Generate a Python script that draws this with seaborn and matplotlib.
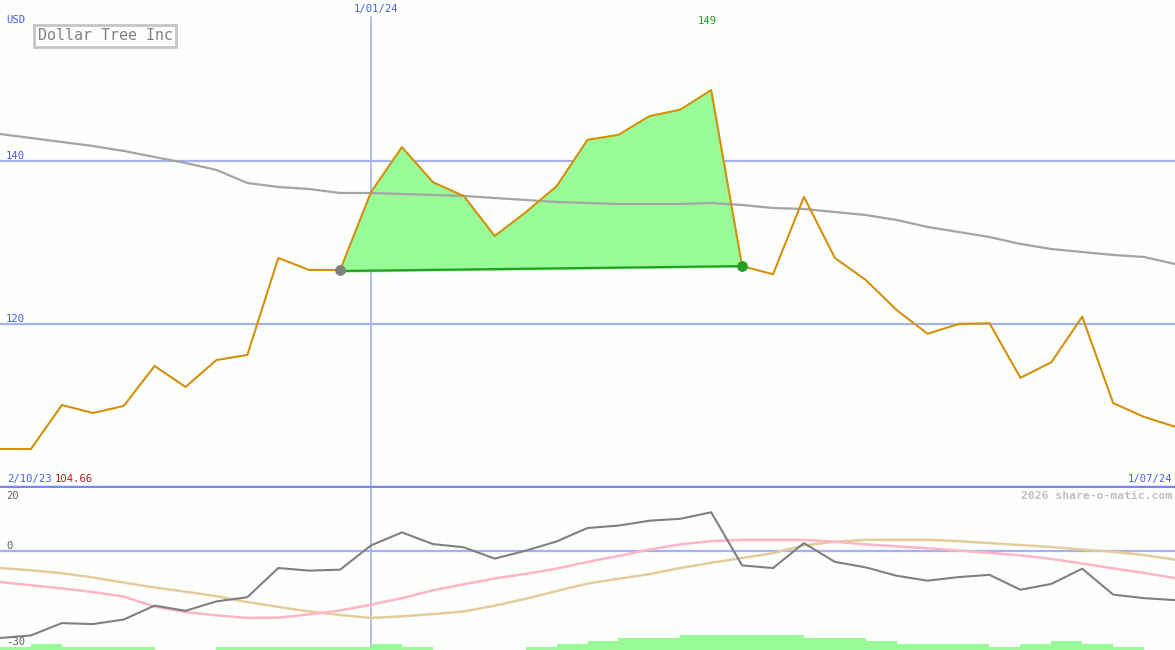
import numpy as np
import pandas as pd
import matplotlib
matplotlib.use("Agg")
import matplotlib.pyplot as plt
import seaborn as sns

# ---------------- data ----------------
price = [104.66, 104.66, 110.06, 109.08, 109.94, 114.85, 112.27, 115.58, 116.2, 128.1,
         126.63, 126.63, 136.2, 141.7, 137.4, 135.7, 130.8, 133.7, 136.9, 142.6,
         143.2, 145.5, 146.3, 148.7, 127.1, 126.1, 135.6, 128.1, 125.4, 121.7,
         118.8, 120.0, 120.1, 113.4, 115.3, 120.9, 110.3, 108.6, 107.4]
moving_avg = [143.31, 142.82, 142.33, 141.84, 141.23, 140.49, 139.75, 138.90, 137.30, 136.81,
              136.56, 136.07, 136.07, 135.95, 135.83, 135.71, 135.46, 135.21, 134.97, 134.85,
              134.72, 134.72, 134.72, 134.85, 134.60, 134.23, 134.11, 133.74, 133.37, 132.76,
              131.90, 131.29, 130.67, 129.82, 129.20, 128.83, 128.47, 128.22, 127.36]
momentum = [-26.3, -25.5, -21.7, -22.0, -20.6, -16.3, -17.9, -15.0, -13.7, -4.7,
            -5.5, -5.2, 2.3, 6.3, 2.7, 1.7, -1.8, 0.65, 3.5, 7.65,
            8.4, 9.9, 10.5, 12.5, -3.9, -4.7, 3.0, -2.8, -4.5, -7.1,
            -8.6, -7.5, -6.8, -11.4, -9.6, -4.9, -12.9, -14.0, -14.6]
pink_osc = [-9.0, -10.0, -11.0, -12.1, -13.5, -16.6, -18.3, -19.3, -20.1, -20.0,
            -19.0, -17.8, -16.0, -14.0, -11.6, -9.7, -7.9, -6.5, -4.9, -2.8,
            -1.0, 1.0, 2.6, 3.6, 4.0, 4.0, 4.0, 3.4, 2.6, 2.0,
            1.4, 0.7, 0.0, -0.8, -1.9, -3.3, -4.8, -6.2, -7.8]
tan_osc = [-4.7, -5.4, -6.3, -7.6, -9.2, -10.7, -12.0, -13.4, -15.2, -16.7,
           -18.1, -19.2, -20.1, -19.6, -18.9, -18.1, -16.3, -14.2, -11.8, -9.5,
           -8.0, -6.6, -4.7, -3.1, -1.6, -0.1, 2.3, 3.4, 4.0, 4.0,
           4.0, 3.6, 3.0, 2.4, 1.8, 1.0, 0.3, -0.7, -2.1]
bar_levels = [1, 2, 1, 1, 1, 0, 0, 1, 1, 1, 1, 1, 2, 1, 0, 0, 0, 1, 2, 3,
              4, 4, 5, 5, 5, 5, 4, 4, 3, 2, 2, 2, 1, 2, 3, 2, 1, 0]
fill_start, fill_end = 11, 24
baseline_vals = [126.5, 127.1]
marker_idx = 12
title = "Dollar Tree Inc"
start_label, end_label, mid_label = "2/10/23", "1/07/24", "1/01/24"
min_label, max_label = "104.66", "149"
price_ticks = [140, 120]

# ---------------- style ----------------
sns.set_style("white")
plt.rcParams['font.family'] = ['DejaVu Sans Mono', 'DejaVu Sans']
BG = "#fcfffc"
BLUE_TXT = "#4a5af0"
GRID = "#a4b2f0"
SEP = "#7a88ee"
ORANGE = "#d4900a"

W, H = 1175, 650
fig = plt.figure(figsize=(W / 100, H / 100), dpi=100, facecolor=BG)
top_h = 487
ax1 = fig.add_axes([0, (H - top_h) / H, 1, top_h / H])
ax2 = fig.add_axes([0, 0, 1, (H - top_h - 1) / H])
for ax in (ax1, ax2):
    ax.set_facecolor(BG)
    for s in ax.spines.values():
        s.set_visible(False)
    ax.set_xticks([])
    ax.set_yticks([])
    ax.set_xlim(0, len(price) - 1)

n = len(price)
df = pd.DataFrame({"i": np.arange(n), "price": price, "ma": moving_avg,
                   "mom": momentum, "pink": pink_osc, "tan": tan_osc})

# ---------------- top panel ----------------
ax1.set_ylim(100, 159.75)
for v in price_ticks:
    ax1.axhline(v, color=GRID, lw=1.6, zorder=1)
ax1.axvline(marker_idx, ymax=1 - 17 / top_h, color=GRID, lw=1.2, zorder=1)

xs = np.arange(fill_start, fill_end + 1)
base = np.linspace(baseline_vals[0], baseline_vals[1], len(xs))
ax1.fill_between(xs, base - 0.15, np.array(price[fill_start:fill_end + 1]),
                 color="#98fb98", lw=0, zorder=2)
ax1.plot([fill_start, fill_end], baseline_vals, color="#22a022", lw=1.6, zorder=3)

sns.lineplot(data=df, x="i", y="ma", ax=ax1, color="#a4a4a4", lw=1.6, zorder=3)
sns.lineplot(data=df, x="i", y="price", ax=ax1, color=ORANGE, lw=1.5, zorder=4)
ax1.scatter([fill_start], [price[fill_start]], s=60, color="#808080", zorder=5, lw=0)
ax1.scatter([fill_end], [price[fill_end]], s=60, color="#22a022", zorder=5, lw=0)
ax1.set_xlabel("")
ax1.set_ylabel("")

# separator
ax1.axhline(100, color=SEP, lw=2.5, zorder=6, clip_on=False)

# ---------------- bottom panel ----------------
ax2.set_ylim(-30, 20)
ax2.axhline(0.6, color=GRID, lw=1.6, zorder=1)
ax2.axvline(marker_idx, color=GRID, lw=1.2, zorder=1)
lvl = 0.93
ax2.bar(np.arange(len(bar_levels)), np.array(bar_levels) * lvl, width=1.0,
        bottom=-30, align="edge", color="#98fb98", lw=0, zorder=2)
sns.lineplot(data=df, x="i", y="tan", ax=ax2, color="#e4cc9c", lw=1.8, zorder=3)
sns.lineplot(data=df, x="i", y="pink", ax=ax2, color="#ffb4c8", lw=1.8, zorder=3)
sns.lineplot(data=df, x="i", y="mom", ax=ax2, color="#808080", lw=1.5, zorder=4)
ax2.set_xlabel("")
ax2.set_ylabel("")


# ---------------- texts ----------------
def t(x, y, s, **kw):
    fig.text(x / W, 1 - y / H, s, **kw)


small = dict(fontsize=7.6, va="center")
t(6, 20, "USD", color=BLUE_TXT, ha="left", **small)
t(376, 9, mid_label, color=BLUE_TXT, ha="center", **small)
t(707, 21, max_label, color="#20a020", ha="center", **small)
for v in price_ticks:
    ypx = (159.75 - v) / (159.75 - 100) * top_h
    t(6, ypx - 5, str(v), color=BLUE_TXT, ha="left", **small)
t(7, 479, start_label, color=BLUE_TXT, ha="left", **small)
t(55, 479, min_label, color="#b02020", ha="left", **small)
t(1172, 479, end_label, color=BLUE_TXT, ha="right", **small)
t(1172, 496, "2026 share-o-matic.com", color="#c0c0c0", ha="right",
  fontsize=8.2, fontweight="bold", va="center")
t(6, 496, "20", color="#606060", ha="left", **small)
t(6, 546, "0", color="#606060", ha="left", **small)
t(6, 642, "-30", color="#606060", ha="left", **small)
t(105, 36, title, color="#808080", ha="center", va="center", fontsize=10.8,
  bbox=dict(boxstyle="square,pad=0.25", fc=BG, ec="#c4c4c4", lw=2))

fig.savefig("out.png", dpi=100, facecolor=BG)
